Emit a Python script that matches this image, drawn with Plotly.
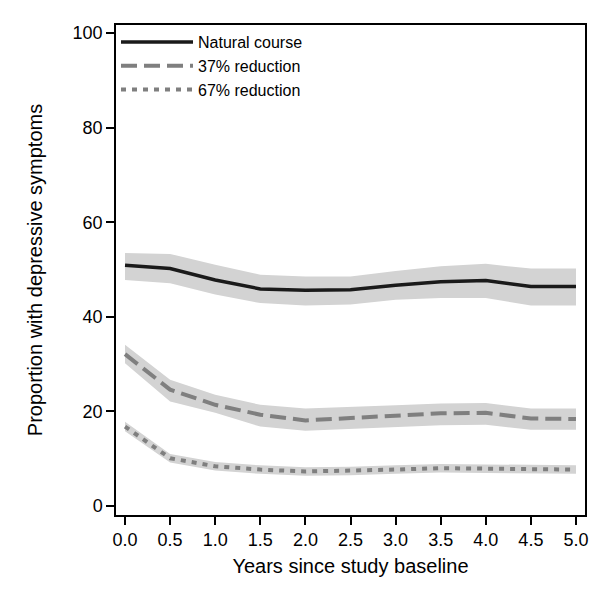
import plotly.graph_objects as go

years = [0.0, 0.5, 1.0, 1.5, 2.0, 2.5, 3.0, 3.5, 4.0, 4.5, 5.0]

natural = [50.9, 50.2, 47.8, 45.9, 45.6, 45.7, 46.7, 47.4, 47.7, 46.4, 46.4]
natural_lo = [47.8, 47.1, 44.7, 42.9, 42.4, 42.6, 43.6, 44.0, 44.0, 42.4, 42.4]
natural_hi = [53.5, 53.3, 51.0, 48.9, 48.5, 48.5, 49.7, 50.7, 51.2, 50.2, 50.2]

red37 = [32.1, 24.6, 21.4, 19.3, 18.1, 18.6, 19.2, 19.6, 19.7, 18.5, 18.4]
red37_lo = [30.2, 22.1, 19.7, 16.8, 15.9, 16.3, 16.8, 17.1, 17.2, 16.1, 16.1]
red37_hi = [34.1, 26.7, 23.5, 21.4, 20.6, 20.9, 21.3, 21.7, 21.8, 20.6, 20.6]

red67 = [16.8, 10.1, 8.4, 7.7, 7.3, 7.4, 7.7, 8.0, 7.9, 7.8, 7.7]
red67_lo = [15.8, 9.2, 7.5, 6.8, 6.4, 6.5, 6.8, 7.1, 7.0, 6.9, 6.8]
red67_hi = [17.8, 11.0, 9.3, 8.6, 8.2, 8.3, 8.6, 8.9, 8.8, 8.7, 8.6]

x_ticks = [0.0, 0.5, 1.0, 1.5, 2.0, 2.5, 3.0, 3.5, 4.0, 4.5, 5.0]
x_ticklabels = ["0.0", "0.5", "1.0", "1.5", "2.0", "2.5", "3.0", "3.5", "4.0", "4.5", "5.0"]
y_ticks = [0, 20, 40, 60, 80, 100]

series = [
    ("Natural course", natural, natural_lo, natural_hi, "#1a1a1a", "solid", 3.5),
    ("37% reduction", red37, red37_lo, red37_hi, "#7f7f7f", "16px,7px", 4),
    ("67% reduction", red67, red67_lo, red67_hi, "#7f7f7f", "5px,6px", 4),
]

band_color = "rgba(211,211,211,1)"
fig = go.Figure()
for name, mid, lo, hi, col, dash, w in series:
    fig.add_trace(go.Scatter(x=years, y=lo, mode="lines", line=dict(width=0),
                             showlegend=False, hoverinfo="skip"))
    fig.add_trace(go.Scatter(x=years, y=hi, mode="lines", line=dict(width=0),
                             fill="tonexty", fillcolor=band_color,
                             showlegend=False, hoverinfo="skip"))
for name, mid, lo, hi, col, dash, w in series:
    fig.add_trace(go.Scatter(x=years, y=mid, mode="lines", name=name,
                             line=dict(color=col, dash=dash, width=w)))

font = "Liberation Sans, Arial, sans-serif"
fig.update_layout(
    width=602, height=597,
    margin=dict(l=108, r=25, t=17, b=90),
    plot_bgcolor="white", paper_bgcolor="white",
    font=dict(family=font, size=17, color="black"),
    legend=dict(x=0.0, y=1.0, xanchor="left", yanchor="top",
                bgcolor="rgba(0,0,0,0)", font=dict(size=16),
                traceorder="normal", tracegroupgap=0, itemwidth=72),
    xaxis=dict(range=[-0.1, 5.1], tickvals=x_ticks, ticktext=x_ticklabels,
               tickfont=dict(size=18),
               showgrid=False, zeroline=False, showline=True, mirror=True,
               linecolor="black", linewidth=1.5, ticks="outside", ticklen=8,
               tickwidth=1.5, tickcolor="black",
               title=dict(text="Years since study baseline", standoff=10)),
    yaxis=dict(range=[-1.9, 101.7], tickvals=y_ticks, tickfont=dict(size=18),
               showgrid=False, zeroline=False, showline=True, mirror=True,
               linecolor="black", linewidth=1.5, ticks="outside", ticklen=8,
               tickwidth=1.5, tickcolor="black",
               title=dict(text="Proportion with depressive symptoms", standoff=25)),
)
fig.write_html("out.html")
